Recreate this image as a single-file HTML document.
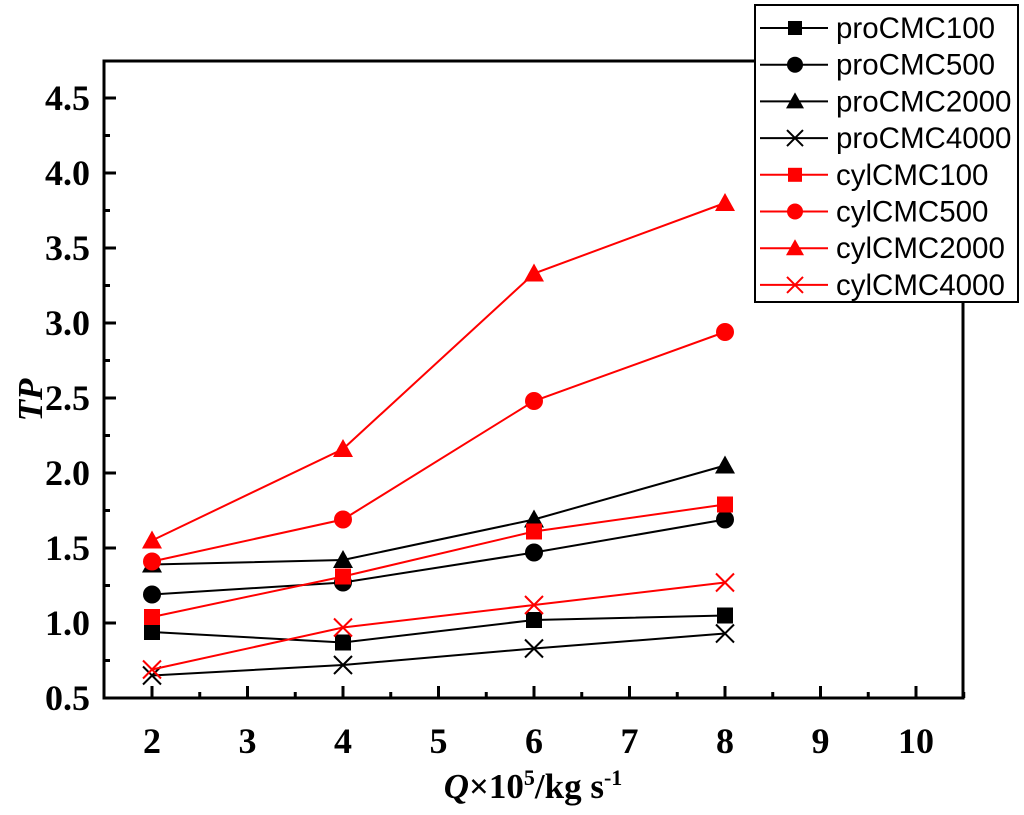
<!DOCTYPE html>
<html><head><meta charset="utf-8"><style>
body{margin:0;background:#fff}
svg text{font-family:"Liberation Serif",serif}
</style></head><body>
<svg id="chart" width="1024" height="810" xmlns="http://www.w3.org/2000/svg">
<g id="axes"></g><g id="series"></g><g id="legend"></g>
</svg>
<script>
const xValues=[2,4,6,8];
const seriesNames=["proCMC100","proCMC500","proCMC2000","proCMC4000","cylCMC100","cylCMC500","cylCMC2000","cylCMC4000"];
const proCMC100=[0.94,0.87,1.02,1.05];
const proCMC500=[1.19,1.27,1.47,1.69];
const proCMC2000=[1.39,1.42,1.69,2.05];
const proCMC4000=[0.65,0.72,0.83,0.93];
const cylCMC100=[1.04,1.31,1.61,1.79];
const cylCMC500=[1.41,1.69,2.48,2.94];
const cylCMC2000=[1.55,2.16,3.33,3.80];
const cylCMC4000=[0.69,0.97,1.12,1.27];
const xTicks=[2,3,4,5,6,7,8,9,10];
const yTicks=[0.5,1.0,1.5,2.0,2.5,3.0,3.5,4.0,4.5];
const seriesData=[proCMC100,proCMC500,proCMC2000,proCMC4000,cylCMC100,cylCMC500,cylCMC2000,cylCMC4000];
const colors=["#000","#000","#000","#000","#f00","#f00","#f00","#f00"];
const markers=["square","circle","triangle","cross","square","circle","triangle","cross"];
const L=104,R=963,T=61,B=698;
const X=v=>152+(v-2)*95.5;
const Y=v=>698-(v-0.5)*150;
const NS="http://www.w3.org/2000/svg";
function mk(tag,attrs,parent){const e=document.createElementNS(NS,tag);for(const k in attrs)e.setAttribute(k,attrs[k]);parent.appendChild(e);return e;}
const axes=document.getElementById('axes');
const frame=mk('rect',{x:L,y:T,width:R-L,height:B-T,fill:'none',stroke:'#000','stroke-width':3},axes);


xTicks.forEach((t,i)=>{
  const tk=mk('line',{x1:X(t),x2:X(t),y1:B,y2:B-12,stroke:'#000','stroke-width':3},axes);
  
  
  const mn=mk('line',{x1:X(t+0.5),x2:X(t+0.5),y1:B,y2:B-6,stroke:'#000','stroke-width':3},axes);
  
  
  const lb=mk('text',{x:X(t),y:753,'text-anchor':'middle','font-size':36,'font-weight':'bold'},axes);
  lb.textContent=t;
  
  
});
yTicks.forEach(t=>{
  const tk=mk('line',{x1:L,x2:L+12,y1:Y(t),y2:Y(t),stroke:'#000','stroke-width':3},axes);
  
  
  if(t<4.5){const mn=mk('line',{x1:L,x2:L+6,y1:Y(t+0.25),y2:Y(t+0.25),stroke:'#000','stroke-width':3},axes);
  
  }
  const lb=mk('text',{x:90,y:Y(t)+12,'text-anchor':'end','font-size':36,'font-weight':'bold'},axes);
  lb.textContent=t.toFixed(1);
  
  
});
const xt=mk('text',{x:533,y:798,'text-anchor':'middle','font-size':35,'font-weight':'bold'},axes);
xt.innerHTML='<tspan font-style="italic">Q</tspan>×10<tspan dy="-13" font-size="22">5</tspan><tspan dy="13">/kg s</tspan><tspan dy="-13" font-size="22">-1</tspan>';


const yt=mk('text',{x:0,y:0,'text-anchor':'middle','font-size':35,'font-weight':'bold','font-style':'italic',transform:'translate(42,400) rotate(-90)'},axes);
yt.textContent='TP';


function marker(type,cx,cy,color,parent,s){
  let e;
  if(type==='square')e=mk('rect',{x:cx-s,y:cy-s,width:2*s,height:2*s,fill:color},parent);
  else if(type==='circle')e=mk('circle',{cx:cx,cy:cy,r:s+1,fill:color},parent);
  else if(type==='triangle')e=mk('polygon',{points:`${cx},${cy-s-2} ${cx-s-2},${cy+s} ${cx+s+2},${cy+s}`,fill:color},parent);
  else e=mk('path',{d:`M${cx-s-1},${cy-s-1}L${cx+s+1},${cy+s+1}M${cx-s-1},${cy+s+1}L${cx+s+1},${cy-s-1}`,stroke:color,'stroke-width':2,fill:'none'},parent);
  return e;
}
const sg=document.getElementById('series');
seriesData.forEach((d,i)=>{
  const g=mk('g',{},sg);
  
  
  const pl=mk('polyline',{points:d.map((v,j)=>X(xValues[j])+','+Y(v)).join(' '),fill:'none',stroke:colors[i],'stroke-width':2},g);
  
  
  d.forEach((v,j)=>{
    const m=marker(markers[i],X(xValues[j]),Y(v),colors[i],g,8);
    
    
  });
});
const lg=document.getElementById('legend');
const lbox=mk('rect',{x:755,y:5,width:263,height:297,fill:'#fff',stroke:'#000','stroke-width':2},lg);


seriesNames.forEach((n,i)=>{
  const y=28+i*36.7;
  const g=mk('g',{},lg);
  
  
  mk('line',{x1:760,x2:828,y1:y,y2:y,stroke:colors[i],'stroke-width':2},g);
  marker(markers[i],795,y,colors[i],g,7);
  const t=mk('text',{x:836,y:y+10,'font-size':29.5,style:'font-family:"Liberation Sans",sans-serif'},g);
  t.textContent=n;
});
</script>
</body></html>
